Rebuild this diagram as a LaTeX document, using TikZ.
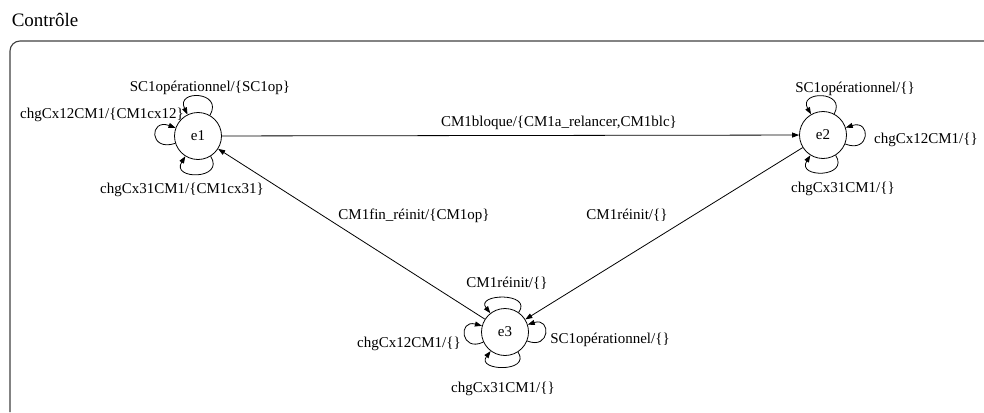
\documentclass[tikz,border=0pt]{standalone}
\usepackage{fontspec}
\setmainfont{Liberation Serif}
\usetikzlibrary{arrows.meta}
\begin{document}
\begin{tikzpicture}[x=1pt,y=-1pt,
  state/.style={draw,circle,minimum size=47pt,inner sep=0pt,line width=0.8pt,font=\fontsize{15}{18}\selectfont},
  lbl/.style={anchor=base,inner sep=0pt,font=\fontsize{15}{18}\selectfont},
  arr/.style={line width=0.8pt,-{Triangle[length=7pt,width=5pt]}},
  frame/.style={draw=black!75,line width=1.1pt}]
\useasboundingbox (0,0) rectangle (984,412);
\node[anchor=base,inner sep=0pt,font=\fontsize{19}{22}\selectfont] (title) at (45,27) {Contrôle};
\draw[frame] (10,412) -- (10,51) arc[start angle=180,end angle=270,radius=10] -- (984,41);
\node[state] (e1) at (198,136) {e1};
\node[state] (e2) at (823,135) {e2};
\node[state] (e3) at (505,332) {e3};
% edges
\draw[arr] (e1) -- (e2);
\draw[arr] (e2) -- (e3);
\draw[arr] (e3) -- (e1);
% loops e1
\draw[arr] (e1.60) .. controls +(60:28pt) and +(116:28pt) .. (e1.116);
\draw[arr] (e1.198) .. controls +(198:28pt) and +(160:28pt) .. (e1.160);
\draw[arr] (e1.-58) .. controls +(-58:28pt) and +(-122:28pt) .. (e1.-122);
% loops e2
\draw[arr] (e2.62) .. controls +(62:27pt) and +(120:27pt) .. (e2.120);
\draw[arr] (e2.-22) .. controls +(-22:27pt) and +(18:27pt) .. (e2.18);
\draw[arr] (e2.-58) .. controls +(-58:27pt) and +(-122:27pt) .. (e2.-122);
% loops e3
\draw[arr] (e3.55) .. controls +(55:25pt) and +(128:25pt) .. (e3.128);
\draw[arr] (e3.205) .. controls +(205:25pt) and +(165:25pt) .. (e3.165);
\draw[arr] (e3.-22) .. controls +(-22:25pt) and +(18:25pt) .. (e3.18);
\draw[arr] (e3.-57) .. controls +(-57:25pt) and +(-127:25pt) .. (e3.-127);
% labels
\node[lbl] (l1) at (210,91) {SC1opérationnel/\{SC1op\}};
\node[lbl] (l2) at (102,118) {chgCx12CM1/\{CM1cx12\}};
\node[lbl] (l3) at (182,193) {chgCx31CM1/\{CM1cx31\}};
\node[lbl] (l4) at (559,126) {CM1bloque/\{CM1a\_relancer,CM1blc\}};
\node[lbl] (l5) at (414,219) {CM1fin\_réinit/\{CM1op\}};
\node[lbl] (l6) at (627,219) {CM1réinit/\{\}};
\node[lbl] (l7) at (855,92) {SC1opérationnel/\{\}};
\node[lbl] (l8) at (926,143) {chgCx12CM1/\{\}};
\node[lbl] (l9) at (843,192) {chgCx31CM1/\{\}};
\node[lbl] (l10) at (507,287) {CM1réinit/\{\}};
\node[lbl] (l11) at (409,347) {chgCx12CM1/\{\}};
\node[lbl] (l12) at (610,343) {SC1opérationnel/\{\}};
\node[lbl] (l13) at (503,392) {chgCx31CM1/\{\}};
\end{tikzpicture}
\end{document}
